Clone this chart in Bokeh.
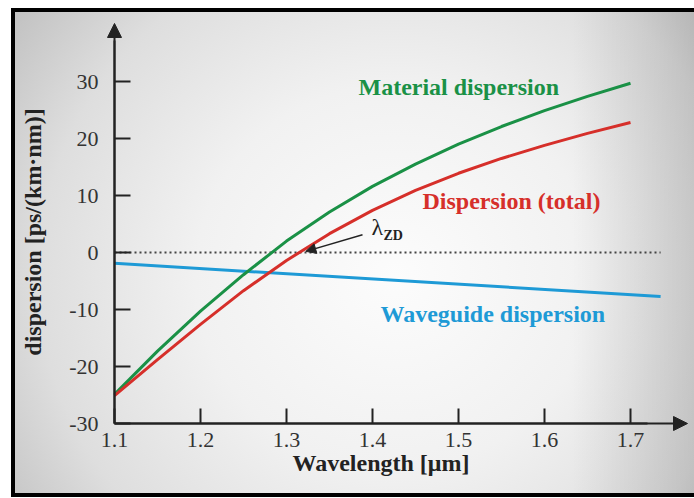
from bokeh.plotting import figure
from bokeh.models import Range1d, FixedTicker, Arrow, NormalHead, Label
from bokeh.embed import file_html
from bokeh.resources import INLINE

# ---- data ----
wavelength = [1.10, 1.15, 1.20, 1.25, 1.30, 1.35, 1.40, 1.45, 1.50, 1.55, 1.60, 1.65, 1.70]
material = [-24.9, -17.3, -10.3, -3.9, 2.0, 7.1, 11.6, 15.5, 19.0, 22.1, 24.9, 27.4, 29.7]
total = [-25.1, -18.8, -12.6, -6.7, -1.4, 3.3, 7.4, 10.9, 13.9, 16.5, 18.8, 20.9, 22.8]
waveguide_x = [1.10, 1.735]
waveguide = [-1.9, -7.7]
zero_x = [1.10, 1.735]
zero_y = [0, 0]
x_ticks = [1.1, 1.2, 1.3, 1.4, 1.5, 1.6, 1.7]
y_ticks = [-30, -20, -10, 0, 10, 20, 30]

GREEN = "#1a9146"
RED = "#d62f2a"
BLUE = "#1e9ad6"
INK = "#222222"
FONT = "Liberation Serif"

W, H = 694, 498
# axis origin (1.1, -30) and scales: 860 px per um, 5.7 px per unit
X_ORIGIN, Y_ORIGIN = 1.1, -30
X_TIP, Y_TIP = 1.7663, 40.18

p = figure(width=W, height=H, output_backend="svg", toolbar_location=None,
           x_range=Range1d(1.1 - 114 / 860, 1.1 + (W - 114) / 860),
           y_range=Range1d(-30 - (H - 423) / 5.7, -30 + 423 / 5.7),
           min_border=0)
p.title.visible = False
p.grid.visible = False
p.outline_line_color = None
p.background_fill_alpha = 0
p.border_fill_alpha = 0
p.styles = {
    "background-color": "#ffffff",
    "background-image": ("linear-gradient(#000,#000), linear-gradient(#000,#000), linear-gradient(#000,#000), "
                         "linear-gradient(to right, rgba(0,0,0,0) 82%, rgba(0,0,0,0.13) 100%), "
                         "radial-gradient(ellipse 70% 95% at 56% 55%, #fcfcfc 0%, #f1f1f1 42%, #dedede 75%, #c0c0c0 100%)"),
    "background-position": "11px 8px, 11px 8px, 11px 493px, 15px 12px, 15px 12px",
    "background-size": "700px 4px, 4px 489px, 700px 4px, 679px 481px, 679px 481px",
    "background-repeat": "no-repeat",
}

# axes
for ax in (p.xaxis[0], p.yaxis[0]):
    ax.axis_line_width = 2
    ax.axis_line_color = INK
    ax.major_tick_line_width = 2
    ax.major_tick_line_color = INK
    ax.major_tick_out = 0
    ax.minor_tick_line_color = None
    ax.major_label_text_font = FONT
    ax.major_label_text_font_size = "22px"
    ax.major_label_text_color = "#333333"
    ax.axis_label_text_font = FONT
    ax.axis_label_text_font_style = "bold"
    ax.axis_label_text_font_size = "24px"
    ax.axis_label_text_color = INK

p.xaxis.fixed_location = Y_ORIGIN
p.xaxis.bounds = (X_ORIGIN, 1.72)
p.xaxis.ticker = FixedTicker(ticks=x_ticks)
p.xaxis.major_label_overrides = {t: f"{t:.1f}" for t in x_ticks}
p.xaxis.major_tick_in = 15
p.xaxis.major_label_standoff = 9
p.xaxis.axis_label = "Wavelength [\u03bcm]"
p.xaxis.axis_label_standoff = 0

p.yaxis.fixed_location = X_ORIGIN
p.yaxis.bounds = (Y_ORIGIN, 37.2)
p.yaxis.ticker = FixedTicker(ticks=y_ticks)
p.yaxis.major_label_overrides = {t: str(t) for t in y_ticks}
p.yaxis.major_tick_in = 16
p.yaxis.major_label_standoff = 16
p.yaxis.major_label_text_baseline = "bottom"
p.yaxis.axis_label = "dispersion [ps/(km\u00b7nm)]"
p.yaxis.axis_label_standoff = 20

# axis lines with arrow heads
p.add_layout(Arrow(end=NormalHead(size=14, fill_color=INK, line_color=INK),
                   x_start=X_ORIGIN, y_start=Y_ORIGIN, x_end=X_ORIGIN, y_end=Y_TIP,
                   line_width=2, line_color=INK))
p.add_layout(Arrow(end=NormalHead(size=14, fill_color=INK, line_color=INK),
                   x_start=X_ORIGIN, y_start=Y_ORIGIN, x_end=X_TIP, y_end=Y_ORIGIN,
                   line_width=2, line_color=INK))

# series
p.line(zero_x, zero_y, line_dash="2 3", line_width=2, line_color="#444444")
p.line(waveguide_x, waveguide, line_width=3, line_color=BLUE)
p.line(wavelength, material, line_width=3, line_color=GREEN)
p.line(wavelength, total, line_width=3, line_color=RED)

# labels
def lab(x, y, text, color, size="24px", style="bold"):
    p.add_layout(Label(x=x, y=y, text=text, text_color=color, text_font=FONT,
                       text_font_size=size, text_font_style=style, text_baseline="alphabetic"))

lab(1.3837, 29.0, "Material dispersion", GREEN)
lab(1.4581, 9.0, "Dispersion (total)", RED)
lab(1.4093, -10.8, "Waveguide dispersion", BLUE)
lab(1.3988, 4.5, "\u03bb", INK, size="24px", style="normal")
lab(1.4128, 3.0, "ZD", INK, size="14px", style="bold")

p.add_layout(Arrow(end=NormalHead(size=10, fill_color=INK, line_color=INK),
                   x_start=1.3884, y_start=3.1, x_end=1.3225, y_end=0.2,
                   line_width=1.5, line_color=INK))

open("out.html", "w").write(file_html(p, INLINE))
